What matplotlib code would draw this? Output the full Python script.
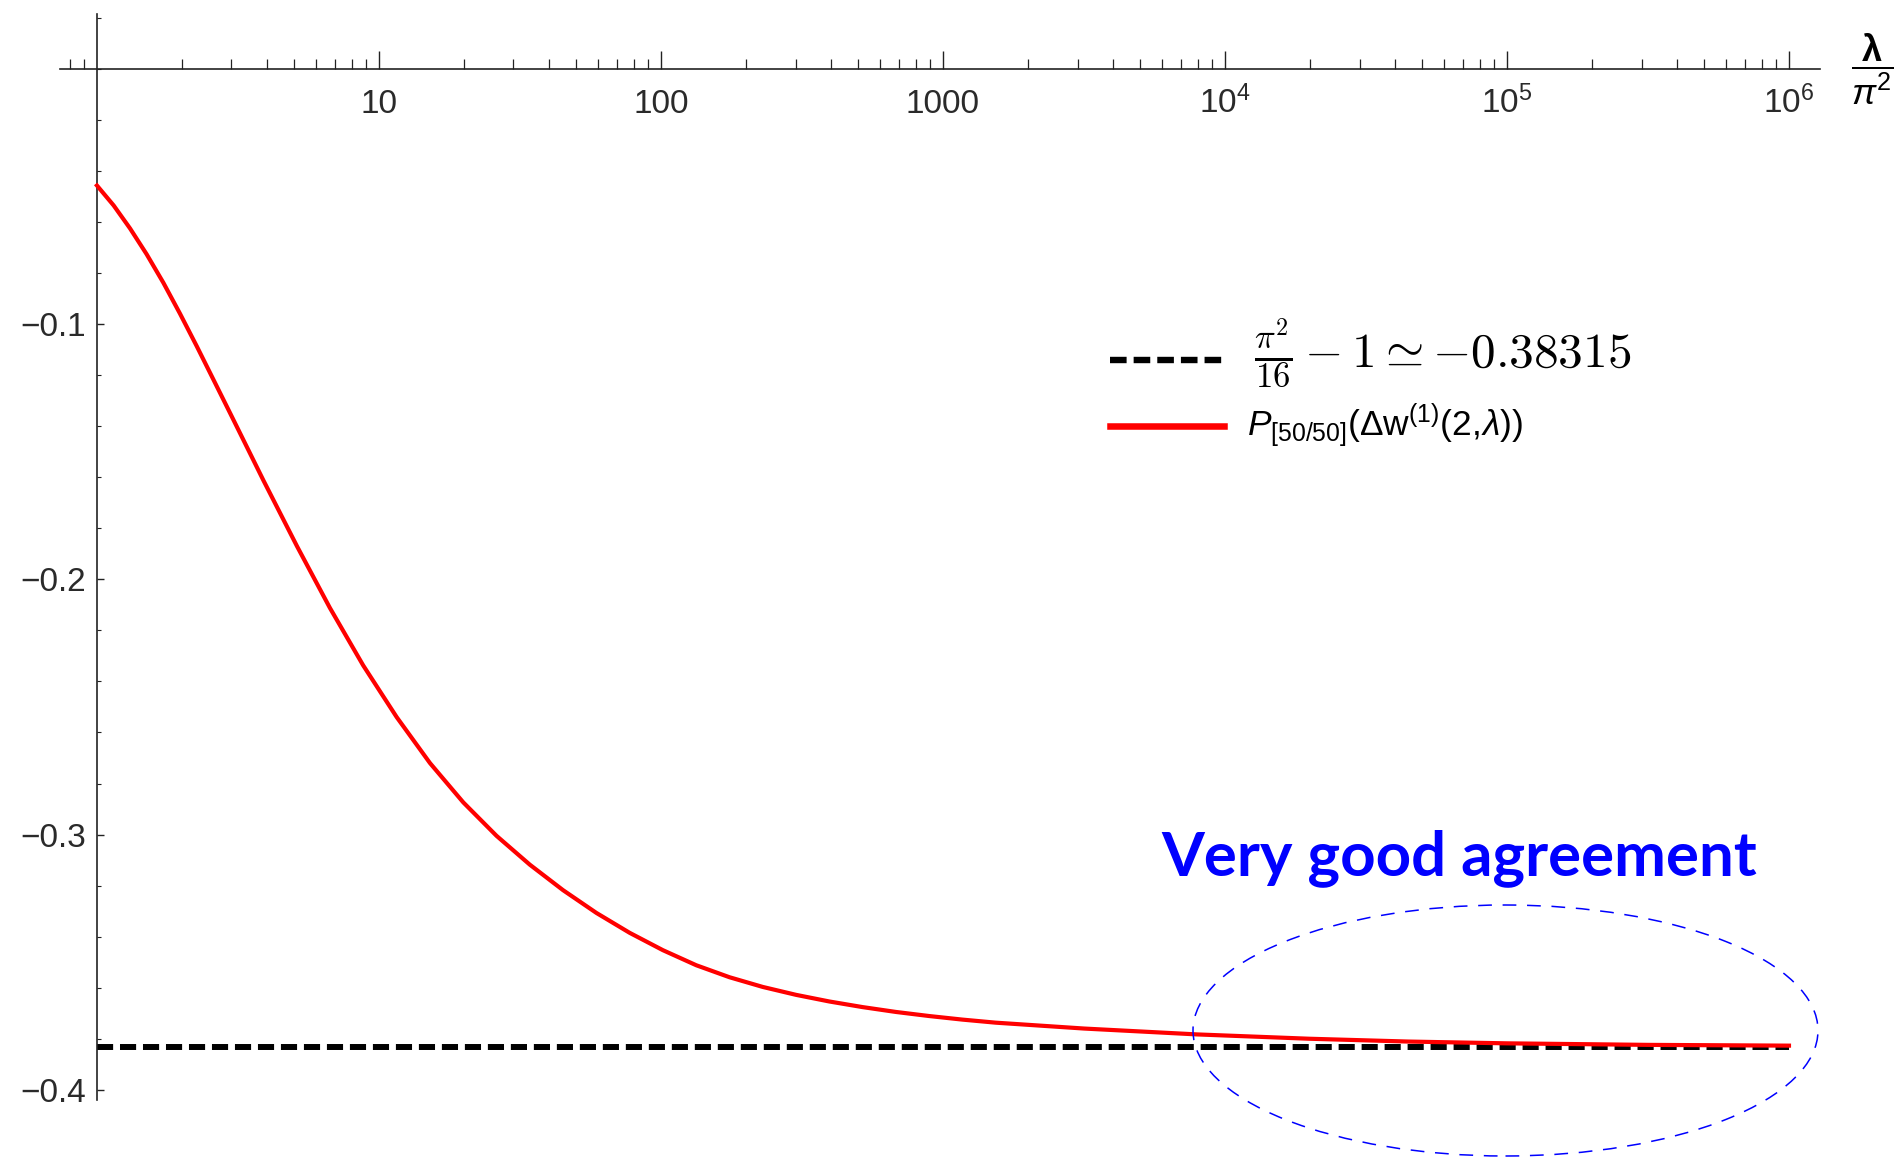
import numpy as np
import matplotlib
matplotlib.use("Agg")
import matplotlib.pyplot as plt
from matplotlib.lines import Line2D
from matplotlib.patches import Ellipse
from matplotlib.ticker import FixedLocator, LogLocator, MultipleLocator, NullFormatter
from matplotlib.transforms import blended_transform_factory

plt.rcParams['font.family'] = ['Liberation Sans', 'DejaVu Sans']
plt.rcParams['mathtext.fontset'] = 'custom'
plt.rcParams['mathtext.rm'] = 'Liberation Sans'
plt.rcParams['mathtext.it'] = 'Liberation Sans:italic'
plt.rcParams['mathtext.bf'] = 'Liberation Sans:bold'

# lambda / pi^2  vs  P[50/50](Delta w^(1)(2, lambda))
lam_pi2 = [1, 1.146, 1.31, 1.50, 1.72, 1.97, 2.26, 2.59, 2.97, 3.90,
           5.12, 6.70, 8.79, 11.56, 15.17, 19.91, 26.12, 34.28, 44.98, 59.02,
           77.45, 101.6, 133.4, 175.0, 229.6, 301.3, 395.4, 518.8, 680.8, 893.3,
           1172, 1538, 3162, 7943, 19950, 44670, 1e5, 316200, 1e6]
pade_w = [-0.0457, -0.0535, -0.0625, -0.0726, -0.0838, -0.0959, -0.1087, -0.1218, -0.1350, -0.1614,
          -0.1870, -0.2112, -0.2337, -0.2540, -0.2720, -0.2874, -0.3005, -0.3118, -0.3218, -0.3307,
          -0.3385, -0.3453, -0.3512, -0.3559, -0.3597, -0.3628, -0.3654, -0.3676, -0.3695, -0.3711,
          -0.3725, -0.3737, -0.3760, -0.3783, -0.3800, -0.3811, -0.3818, -0.3824, -0.3827]

asym_x = [1, 1e6]
asym_val = np.pi ** 2 / 16 - 1   # -0.38315

xticks = [10, 100, 1000, 1e4, 1e5, 1e6]
xtick_labels = ['10', '100', '1000', r'$10^4$', r'$10^5$', r'$10^6$']
yticks = [-0.4, -0.3, -0.2, -0.1]
ytick_labels = ['\u22120.4', '\u22120.3', '\u22120.2', '\u22120.1']

W, H = 1896, 1157
fig = plt.figure(figsize=(W / 100, H / 100), dpi=100)
ax = fig.add_axes([60 / W, 1 - 1100 / H, 1760 / W, 1086 / H])

ax.plot(asym_x, [asym_val, asym_val], color='black', lw=4.3, dashes=(2.7, 1.15), zorder=2)
ax.plot(lam_pi2, pade_w, color='red', lw=3.0, zorder=3)

ax.set_xscale('log')
ax.set_xlim(10 ** -0.131, 10 ** 6.11)
ax.set_ylim(-0.404, 0.0215)

for s in ['top', 'right']:
    ax.spines[s].set_visible(False)
ax.spines['left'].set_position(('data', 1))
ax.spines['bottom'].set_position(('data', 0))
for s in ['left', 'bottom']:
    ax.spines[s].set_linewidth(1.2)
    ax.spines[s].set_color('#222222')

ax.xaxis.set_major_locator(FixedLocator(xticks))
ax.set_xticklabels(xtick_labels)
ax.xaxis.set_minor_locator(LogLocator(base=10, subs=np.arange(2, 10)))
ax.xaxis.set_minor_formatter(NullFormatter())
ax.yaxis.set_major_locator(FixedLocator(yticks))
ax.set_yticklabels(ytick_labels)
ax.yaxis.set_minor_locator(MultipleLocator(0.02))

ax.tick_params(axis='x', which='major', direction='in', length=13, width=1.0,
               color='#222222', labelsize=24, labelcolor='#2a2a2a', pad=32)
ax.tick_params(axis='x', which='minor', direction='in', length=7, width=0.9, color='#222222')
ax.tick_params(axis='y', which='major', direction='in', length=5, width=1.0,
               color='#222222', labelsize=24, labelcolor='#2a2a2a', pad=8)
ax.tick_params(axis='y', which='minor', direction='in', length=3, width=0.8, color='#222222')
for lab in ax.get_xticklabels():
    lab.set_verticalalignment('baseline')

ax.set_xlabel(r'$\dfrac{\mathbf{\lambda}}{\pi^2}$', fontsize=26, va='center', ha='center')
ax.xaxis.set_label_coords(1.0295, 0, transform=blended_transform_factory(ax.transAxes, ax.transData))

# legend drawn by hand, Mathematica style
fig.add_artist(Line2D([1110 / W, 1222 / W], [1 - 360 / H, 1 - 360 / H], color='black',
                      lw=4.6, dashes=(2.6, 1.1)))
fig.add_artist(Line2D([1110 / W, 1224 / W], [1 - 426 / H, 1 - 426 / H], color='red', lw=4.7))
fig.text(1254 / W, 1 - 353 / H, r'$\frac{\pi^2}{16} - 1 \simeq {-0.38315}$', fontsize=35.5,
         va='center', ha='left', math_fontfamily='cm')
fig.text(1247 / W, 1 - 435 / H, r'$P_{[50/50]}(\Delta\mathrm{w}^{(1)}(2,\!\lambda))$', fontsize=25.5,
         va='baseline', ha='left', color='black')

fig.text(1161 / W, 1 - 875 / H, 'Very good agreement', fontsize=44.5, fontweight='bold',
         family='Lato', color='blue', va='baseline', ha='left')
fig.add_artist(Ellipse((1505.5 / W, 1 - 1030.5 / H), 625 / W, 251 / H, transform=fig.transFigure,
                       fill=False, edgecolor='blue', lw=1.1, linestyle=(0, (9, 7))))

fig.savefig('out.png', dpi=100)
